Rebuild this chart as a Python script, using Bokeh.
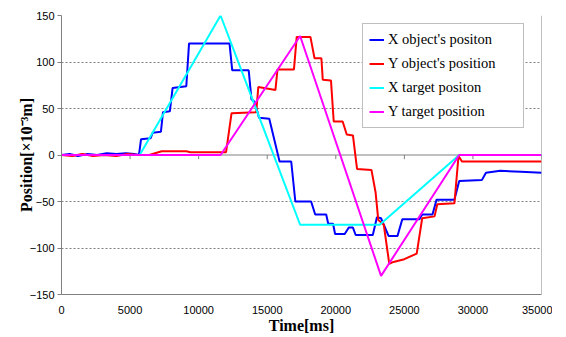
from bokeh.plotting import figure
from bokeh.models import Range1d, Legend, LegendItem, Span, FixedTicker
from bokeh.embed import file_html
from bokeh.resources import INLINE

# ---- data (time in ms, position in 1e-3 m) ----
x_ticks = [0, 5000, 10000, 15000, 20000, 25000, 30000, 35000]
y_ticks = [-150, -100, -50, 0, 50, 100, 150]

x_obj_t = [0, 600, 1200, 1900, 2600, 3300, 4000, 4700, 5300, 5650, 5800, 6500, 6650, 7250, 7400, 7900, 8100,
           9100, 9300, 12250, 12450, 13650, 13850, 14100, 14400, 15150, 15900, 16750, 17050, 18200, 18500,
           19300, 19450, 19800, 19950, 20650, 20950, 21250, 21450, 22700, 23000, 23300, 23850, 24500, 24850,
           26100, 26300, 27050, 27350, 28650, 29000, 30650, 30950, 32000, 33500, 35000]
x_obj_v = [0, 1, -1, 1, 0, 2, 1, 2, 1, 0, 17, 18, 24, 25, 46, 47, 72,
           74, 120, 120, 91, 91, 60, 57, 40, 39, -7, -7, -50, -50, -64,
           -64, -74, -74, -85, -85, -78, -78, -86, -86, -67, -68, -87, -87, -69,
           -69, -64, -64, -48, -48, -28, -27, -19, -17, -18, -19]

y_obj_t = [0, 800, 1500, 2300, 3100, 4000, 4800, 5600, 6400, 7300, 9100, 9400, 12000, 12400, 14200, 14350,
           15600, 15750, 16950, 17150, 18150, 18450, 18950, 19050, 19650, 19850, 20500, 20800, 21250,
           21550, 22600, 22900, 23100, 23500, 23900, 24200, 25000, 25900, 26300, 27200, 27400, 28650,
           28950, 29200, 35000]
y_obj_v = [0, -1, 1, -1, 0, -1, 1, 0, 0, 4, 4, 3, 3, 45, 46, 73,
           70, 92, 92, 127, 127, 104, 104, 81, 80, 36, 36, 22, 21,
           -15, -16, -40, -70, -75, -117, -115, -112, -106, -68, -66, -53, -52,
           -1, -7, -7]

x_tgt_t = [0, 5700, 11600, 17400, 23200, 29000, 35000]
x_tgt_v = [0, 0, 150, -75, -75, 0, 0]

y_tgt_t = [0, 11600, 17400, 23300, 29000, 35000]
y_tgt_v = [0, 0, 128, -130, 0, 0]

labels = ["X object's positon", "Y object's position", "X target positon", "Y target position"]
colors = ["#0000FF", "#FF0000", "#00FFFF", "#FF00FF"]

GRAY = "#808080"

p = figure(width=552, height=336, output_backend="svg", toolbar_location=None,
           x_range=Range1d(0, 35000), y_range=Range1d(-150, 150),
           min_border_left=61, min_border_right=11, min_border_top=15, min_border_bottom=40,
           background_fill_color="white", border_fill_color="white")
p.outline_line_color = None

# grid
p.xgrid.visible = False
p.ygrid.ticker = FixedTicker(ticks=[-100, -50, 50, 100, 150])
p.ygrid.grid_line_color = GRAY
p.ygrid.grid_line_dash = "2 2"
p.ygrid.grid_line_width = 1

# axes
p.xaxis.ticker = FixedTicker(ticks=x_ticks)
p.yaxis.ticker = FixedTicker(ticks=y_ticks)
for ax in (p.xaxis[0], p.yaxis[0]):
    ax.axis_line_color = GRAY
    ax.major_tick_line_color = GRAY
    ax.minor_tick_line_color = None
    ax.major_label_text_font = "Liberation Sans"
    ax.major_label_text_font_size = "11px"
    ax.major_label_text_color = "#000000"
    ax.axis_label_text_font = "Liberation Serif"
    ax.axis_label_text_font_style = "bold"
    ax.axis_label_text_font_size = "16px"
    ax.axis_label_text_color = "#000000"
p.xaxis.major_tick_out = 0
p.xaxis.major_tick_in = 0
p.xaxis.major_label_standoff = 11
p.xaxis.axis_label = "Time[ms]"
p.xaxis.axis_label_standoff = 0
p.yaxis.major_tick_out = 4
p.yaxis.major_tick_in = 0
p.yaxis.major_label_standoff = 3
p.yaxis.axis_label = "Position[×10⁻³m]"
p.yaxis.axis_label_standoff = -8

# right border line and horizontal axis line at zero with tick marks
p.add_layout(Span(location=35000, dimension="height", line_color=GRAY, line_width=1, level="underlay"))
p.add_layout(Span(location=0, dimension="width", line_color=GRAY, line_width=1, level="underlay"))
p.segment(x0=x_ticks, y0=[0] * len(x_ticks), x1=x_ticks, y1=[-4.5] * len(x_ticks),
          line_color=GRAY, line_width=1)

# series
r1 = p.line(x_obj_t, x_obj_v, line_color=colors[0], line_width=2)
r2 = p.line(y_obj_t, y_obj_v, line_color=colors[1], line_width=2)
r3 = p.line(x_tgt_t, x_tgt_v, line_color=colors[2], line_width=2)
r4 = p.line(y_tgt_t, y_tgt_v, line_color=colors[3], line_width=2)

legend = Legend(items=[LegendItem(label=l, renderers=[r]) for l, r in zip(labels, [r1, r2, r3, r4])],
                location=(301, 166))
legend.border_line_color = GRAY
legend.border_line_width = 1
legend.background_fill_color = "white"
legend.background_fill_alpha = 1
legend.label_text_font = "Liberation Serif"
legend.label_text_font_size = "14.5px"
legend.label_text_color = "#000000"
legend.glyph_width = 15
legend.glyph_height = 19
legend.label_height = 19
legend.label_width = 129
legend.label_standoff = 4
legend.spacing = 5
legend.padding = 6
legend.margin = 0
p.add_layout(legend, "center")

open("out.html", "w").write(file_html(p, INLINE))
